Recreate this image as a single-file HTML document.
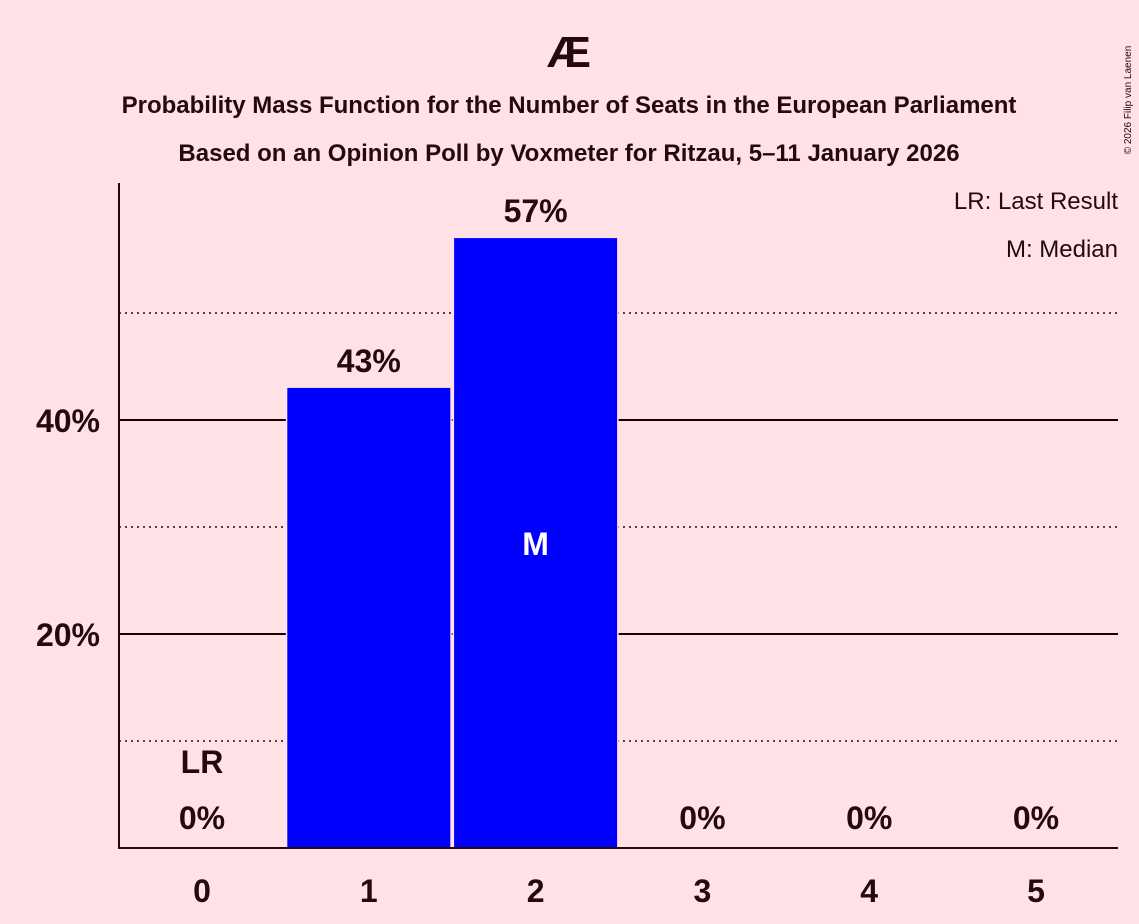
<!DOCTYPE html>
<html><head><meta charset="utf-8"><style>
body{margin:0;background:#FFE1E6;}
svg{display:block;font-family:"Liberation Sans",sans-serif;font-weight:bold;fill:#220a10;}
</style></head><body>
<svg width="1139" height="924">
<rect width="1139" height="924" fill="#FFE1E6"/>
<text x="569" y="67" font-size="44" text-anchor="middle">Æ</text>
<text x="569" y="113" font-size="24" text-anchor="middle">Probability Mass Function for the Number of Seats in the European Parliament</text>
<text x="569" y="161" font-size="24" text-anchor="middle">Based on an Opinion Poll by Voxmeter for Ritzau, 5–11 January 2026</text>
<text x="1131" y="100" font-size="10" font-weight="normal" transform="rotate(-90 1131 100)" text-anchor="middle">© 2026 Filip van Laenen</text>
<text x="1118" y="209" font-size="24" font-weight="normal" text-anchor="end">LR: Last Result</text>
<text x="1118" y="257" font-size="24" font-weight="normal" text-anchor="end">M: Median</text>
<g id="grid"></g>
<g id="bars"></g>
<line x1="119" y1="183" x2="119" y2="849" stroke="#220a10" stroke-width="2"/>
<line x1="118" y1="848" x2="1118" y2="848" stroke="#220a10" stroke-width="2"/>
<g id="labels"></g>
</svg>
<script>
const categories=[0,1,2,3,4,5];
const values=[0,43,57,0,0,0];
const valueLabels=["0%","43%","57%","0%","0%","0%"];
const majorTicks=[20,40];
const minorTicks=[10,30,50];
const lastResult=0;
const median=2;
const ns="http://www.w3.org/2000/svg";
const y=v=>848-v*10.7;
const x=i=>202+i*166.8;
const bw=163;
function mk(t,a,p){const e=document.createElementNS(ns,t);for(const k in a)e.setAttribute(k,a[k]);p.appendChild(e);return e;}
const grid=document.getElementById('grid'),bars=document.getElementById('bars'),labels=document.getElementById('labels');
minorTicks.forEach(v=>{const l=mk('line',{x1:119,x2:1118,y1:y(v),y2:y(v),stroke:'#220a10','stroke-width':1.5,'stroke-dasharray':'2 4'},grid);

});
majorTicks.forEach(v=>{const l=mk('line',{x1:119,x2:1118,y1:y(v),y2:y(v),stroke:'#120005','stroke-width':2},grid);


const t=mk('text',{x:100,y:y(v)+12,'font-size':32,'text-anchor':'end'},labels);t.textContent=v+'%';

});
categories.forEach((c,i)=>{
 if(values[i]>0){const r=mk('rect',{x:x(i)-bw/2,y:y(values[i]),width:bw,height:848-y(values[i]),fill:'#0000ff',stroke:'#FFE1E6','stroke-width':3,'paint-order':'stroke'},bars);
 
 }
 const t=mk('text',{x:x(i),y:values[i]>0?y(values[i])-16:829,'font-size':32,'text-anchor':'middle'},labels);t.textContent=valueLabels[i];
 
 
 const xt=mk('text',{x:x(i),y:902,'font-size':32,'text-anchor':'middle'},labels);xt.textContent=c;
 
 
 if(c===lastResult){const l=mk('text',{x:x(i),y:773,'font-size':32,'text-anchor':'middle'},labels);l.textContent='LR';
 
 }
 if(c===median){const m=mk('text',{x:x(i),y:(y(values[i])+848)/2+12,'font-size':32,'text-anchor':'middle',fill:'#fff'},labels);m.textContent='M';
 
 }
});
</script>
</body></html>
